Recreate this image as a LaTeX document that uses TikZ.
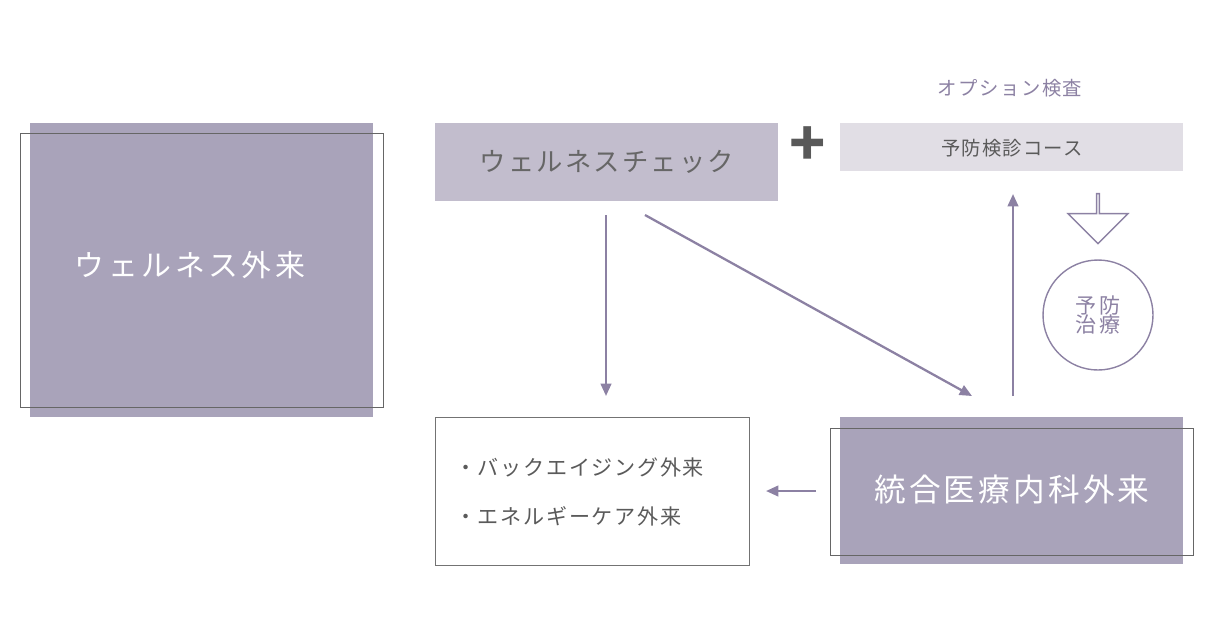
\documentclass[tikz,border=0pt]{standalone}
\usepackage{fontspec}
\setmainfont{Noto Sans CJK JP}
\usetikzlibrary{arrows.meta,shapes.arrows}
\definecolor{lilac}{HTML}{A9A3BA}
\definecolor{lilaclight}{HTML}{C2BDCD}
\definecolor{lilacpale}{HTML}{E1DEE5}
\definecolor{linepurple}{HTML}{8C81A3}
\definecolor{textgray}{HTML}{5A5A5A}
\tikzset{
  flow/.style={draw=linepurple, line width=1.3pt, -{Triangle[length=7pt,width=6pt]}},
  frame/.style={draw=black!60, line width=0.5pt},
}
\newcommand{\jp}[2]{\fontsize{#1}{#1}\selectfont\addfontfeature{LetterSpace=#2}}
\begin{document}
\begin{tikzpicture}[x=0.02cm,y=-0.02cm]
    \useasboundingbox (0,0) rectangle (1213,637);
    % wellness outpatient
    \fill [lilac] (30,123) rectangle (373,417);
    \draw [frame] (20,133) rectangle (383,407);
    \node (wout) [text=white] at (190,265) {\jp{17pt}{12}ウェルネス外来};
    % wellness check + course
    \fill [lilaclight] (435,123) rectangle (778,201);
    \node (check) [text=black!60] at (607,162) {\jp{15pt}{8}ウェルネスチェック};
    \node (plus) [text=black!65, font=\fontsize{34pt}{34pt}\selectfont\bfseries] at (808,146) {+};
    \fill [lilacpale] (840,123) rectangle (1183,171);
    \node (course) [text=textgray] at (1012,148) {\jp{11pt}{6}予防検診コース};
    \node (option) [text=linepurple] at (1010,88) {\jp{11pt}{8}オプション検査};
    % prevention
    \node (prev) [circle, draw=linepurple, line width=0.8pt, minimum size=2.2cm, inner sep=0pt,
        text=linepurple, align=center] at (1098,315) {\jp{12pt}{10}予防\\[-1pt]\jp{12pt}{10}治療};
    \node (down) [single arrow, shape border rotate=270, draw=linepurple, line width=0.8pt,
        minimum width=1.2cm, minimum height=1cm, single arrow head extend=0.3cm,
        single arrow tip angle=90, inner sep=0pt] at (1098,218) {};
    % other outpatients
    \draw [frame, draw=black!55] (435,417) rectangle (749,565);
    \node (list) [text=textgray, anchor=west, align=left] at (449,492)
        {\jp{12pt}{8}・バックエイジング外来\\[16pt]\jp{12pt}{8}・エネルギーケア外来};
    % integrative outpatient
    \fill [lilac] (840,417) rectangle (1183,564);
    \draw [frame] (830,428) rectangle (1193,555);
    \node (integ) [text=white] at (1012,490) {\jp{18pt}{10}統合医療内科外来};
    % connectors
    \coordinate (c1) at (606,215); \coordinate (c2) at (606,396);
    \coordinate (d1) at (645,215); \coordinate (d2) at (972,396);
    \coordinate (u1) at (1013,396); \coordinate (u2) at (1013,194);
    \coordinate (l1) at (816,491); \coordinate (l2) at (766,491);
    \draw [flow] (c1) -- (c2);
    \draw [flow] (d1) -- (d2);
    \draw [flow] (u1) -- (u2);
    \draw [flow] (l1) -- (l2);
\end{tikzpicture}
\end{document}
